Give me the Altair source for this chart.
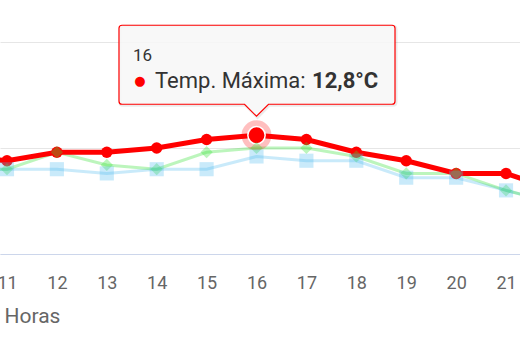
import altair as alt
import pandas as pd

# ---- data ----
hours = [10, 11, 12, 13, 14, 15, 16, 17, 18, 19, 20, 21, 22]
temp_max = [12.3, 12.2, 12.4, 12.4, 12.5, 12.7, 12.8, 12.7, 12.4, 12.2, 11.9, 11.9, 11.5]
temp_med = [12.0, 12.0, 12.4, 12.1, 12.0, 12.4, 12.5, 12.5, 12.3, 11.9, 11.9, 11.5, 11.2]
temp_min = [12.0, 12.0, 12.0, 11.9, 12.0, 12.0, 12.3, 12.2, 12.2, 11.8, 11.8, 11.5, 11.2]
tick_hours = [11, 12, 13, 14, 15, 16, 17, 18, 19, 20, 21]
grid_values = [10, 12.5, 15]
hover_hour = 16
series_name = "Temp. Máxima"
x_title = "Horas"

df_max = pd.DataFrame({"hour": hours, "temp": temp_max})
df_med = pd.DataFrame({"hour": hours, "temp": temp_med})
df_min = pd.DataFrame({"hour": hours, "temp": temp_min})

hv = temp_max[hours.index(hover_hour)]
df_tip = pd.DataFrame({
    "hour": [hover_hour],
    "temp": [hv],
    "header": [str(hover_hour)],
    "label": [series_name + ": "],
    "value": [f"{hv:.1f}".replace(".", ",") + "°C"],
    "bullet": ["●"],
})

FONT = "Roboto"
RED = "#ff0000"
GREEN = "#33e033"
BLUE = "#4cb8f0"

x_enc = alt.X(
    "hour:Q",
    scale=alt.Scale(domain=[10.86, 21.28], nice=False, zero=False),
    axis=alt.Axis(
        values=tick_hours, grid=False, ticks=False, tickSize=0,
        domainColor="#ccd6eb", domainWidth=1,
        labelFont=FONT, labelFontSize=18, labelColor="#666666",
        labelBaseline="alphabetic", labelPadding=34, labelFlush=False,
        labelOverlap=False,
        title=x_title, titleFont=FONT, titleFontSize=21, titleFontWeight="normal",
        titleColor="#666666", titleAlign="left", titleBaseline="alphabetic",
        titleX=4, titleY=68, titleAngle=0,
    ),
)
y_enc = alt.Y(
    "temp:Q",
    scale=alt.Scale(domain=[10, 15.99], nice=False, zero=False),
    axis=alt.Axis(
        values=grid_values, grid=True, gridColor="#e6e6e6", gridWidth=1,
        labels=False, ticks=False, domain=False, title=None,
    ),
)

def series(df, color, op, width, shape, size):
    b = alt.Chart(df).encode(x=x_enc, y=y_enc)
    line = b.mark_line(clip=True, color=color, strokeWidth=width, opacity=op)
    pts = b.mark_point(clip=True, filled=True, shape=shape, size=size,
                       color=color, opacity=op)
    return line, pts

blue_line, blue_pts = series(df_min, BLUE, 0.3, 3, "square", 200)
green_line, green_pts = series(df_med, GREEN, 0.33, 3, "diamond", 150)
red_line, red_pts = series(df_max, RED, 1.0, 5, "circle", 130)

tip_base = alt.Chart(df_tip).encode(x=x_enc, y=y_enc)

halo = tip_base.mark_point(filled=True, size=900, color=RED, opacity=0.25)
hover_pt = tip_base.mark_point(filled=True, size=300, color=RED, opacity=1,
                               stroke="white", strokeWidth=1.5)

def callout(ox=0.0, oy=0.0):
    L, R, T, B, A, P = -137.5 + ox, 138.5 + ox, -110 + oy, -31 + oy, -19 + oy, 12
    r = 3
    return (f"M{L + r} {T} L{R - r} {T} Q{R} {T} {R} {T + r} L{R} {B - r} "
            f"Q{R} {B} {R - r} {B} L{P + ox} {B} L{ox} {A} L{-P + ox} {B} "
            f"L{L + r} {B} Q{L} {B} {L} {B - r} L{L} {T + r} Q{L} {T} {L + r} {T} Z")

shadow = tip_base.mark_point(shape=callout(1, 1), size=4, filled=False,
                             stroke="#000000", strokeWidth=3, strokeOpacity=0.08,
                             opacity=1)
box = tip_base.mark_point(shape=callout(), size=4, filled=True,
                          fill="#f7f7f7", fillOpacity=0.88,
                          stroke=RED, strokeWidth=1.2, strokeOpacity=1, opacity=1)

header = tip_base.mark_text(align="left", baseline="alphabetic", dx=-123.5, dy=-74,
                            font=FONT, fontSize=17, color="#333333").encode(text="header:N")
bullet = tip_base.mark_text(align="center", baseline="middle", dx=-116.5, dy=-54,
                            font="DejaVu Sans", fontSize=13, color=RED).encode(text="bullet:N")
label = tip_base.mark_text(align="left", baseline="alphabetic", dx=-101.5, dy=-47,
                           font=FONT, fontSize=22, color="#333333").encode(text="label:N")
value = tip_base.mark_text(align="left", baseline="alphabetic", dx=55.5, dy=-47,
                           font=FONT, fontSize=22, fontWeight="bold",
                           color="#333333").encode(text="value:N")

chart = alt.layer(
    blue_line, green_line, red_line, red_pts, halo, hover_pt,
    green_pts, blue_pts,
    shadow, box, header, bullet, label, value,
).properties(
    width=520, height=254,
    padding={"left": 0, "right": 0, "top": 0, "bottom": 83},
    autosize=alt.AutoSizeParams(type="none"),
).configure_view(stroke=None)

chart.save("out.html", embed_options={"renderer": "svg", "actions": False})
